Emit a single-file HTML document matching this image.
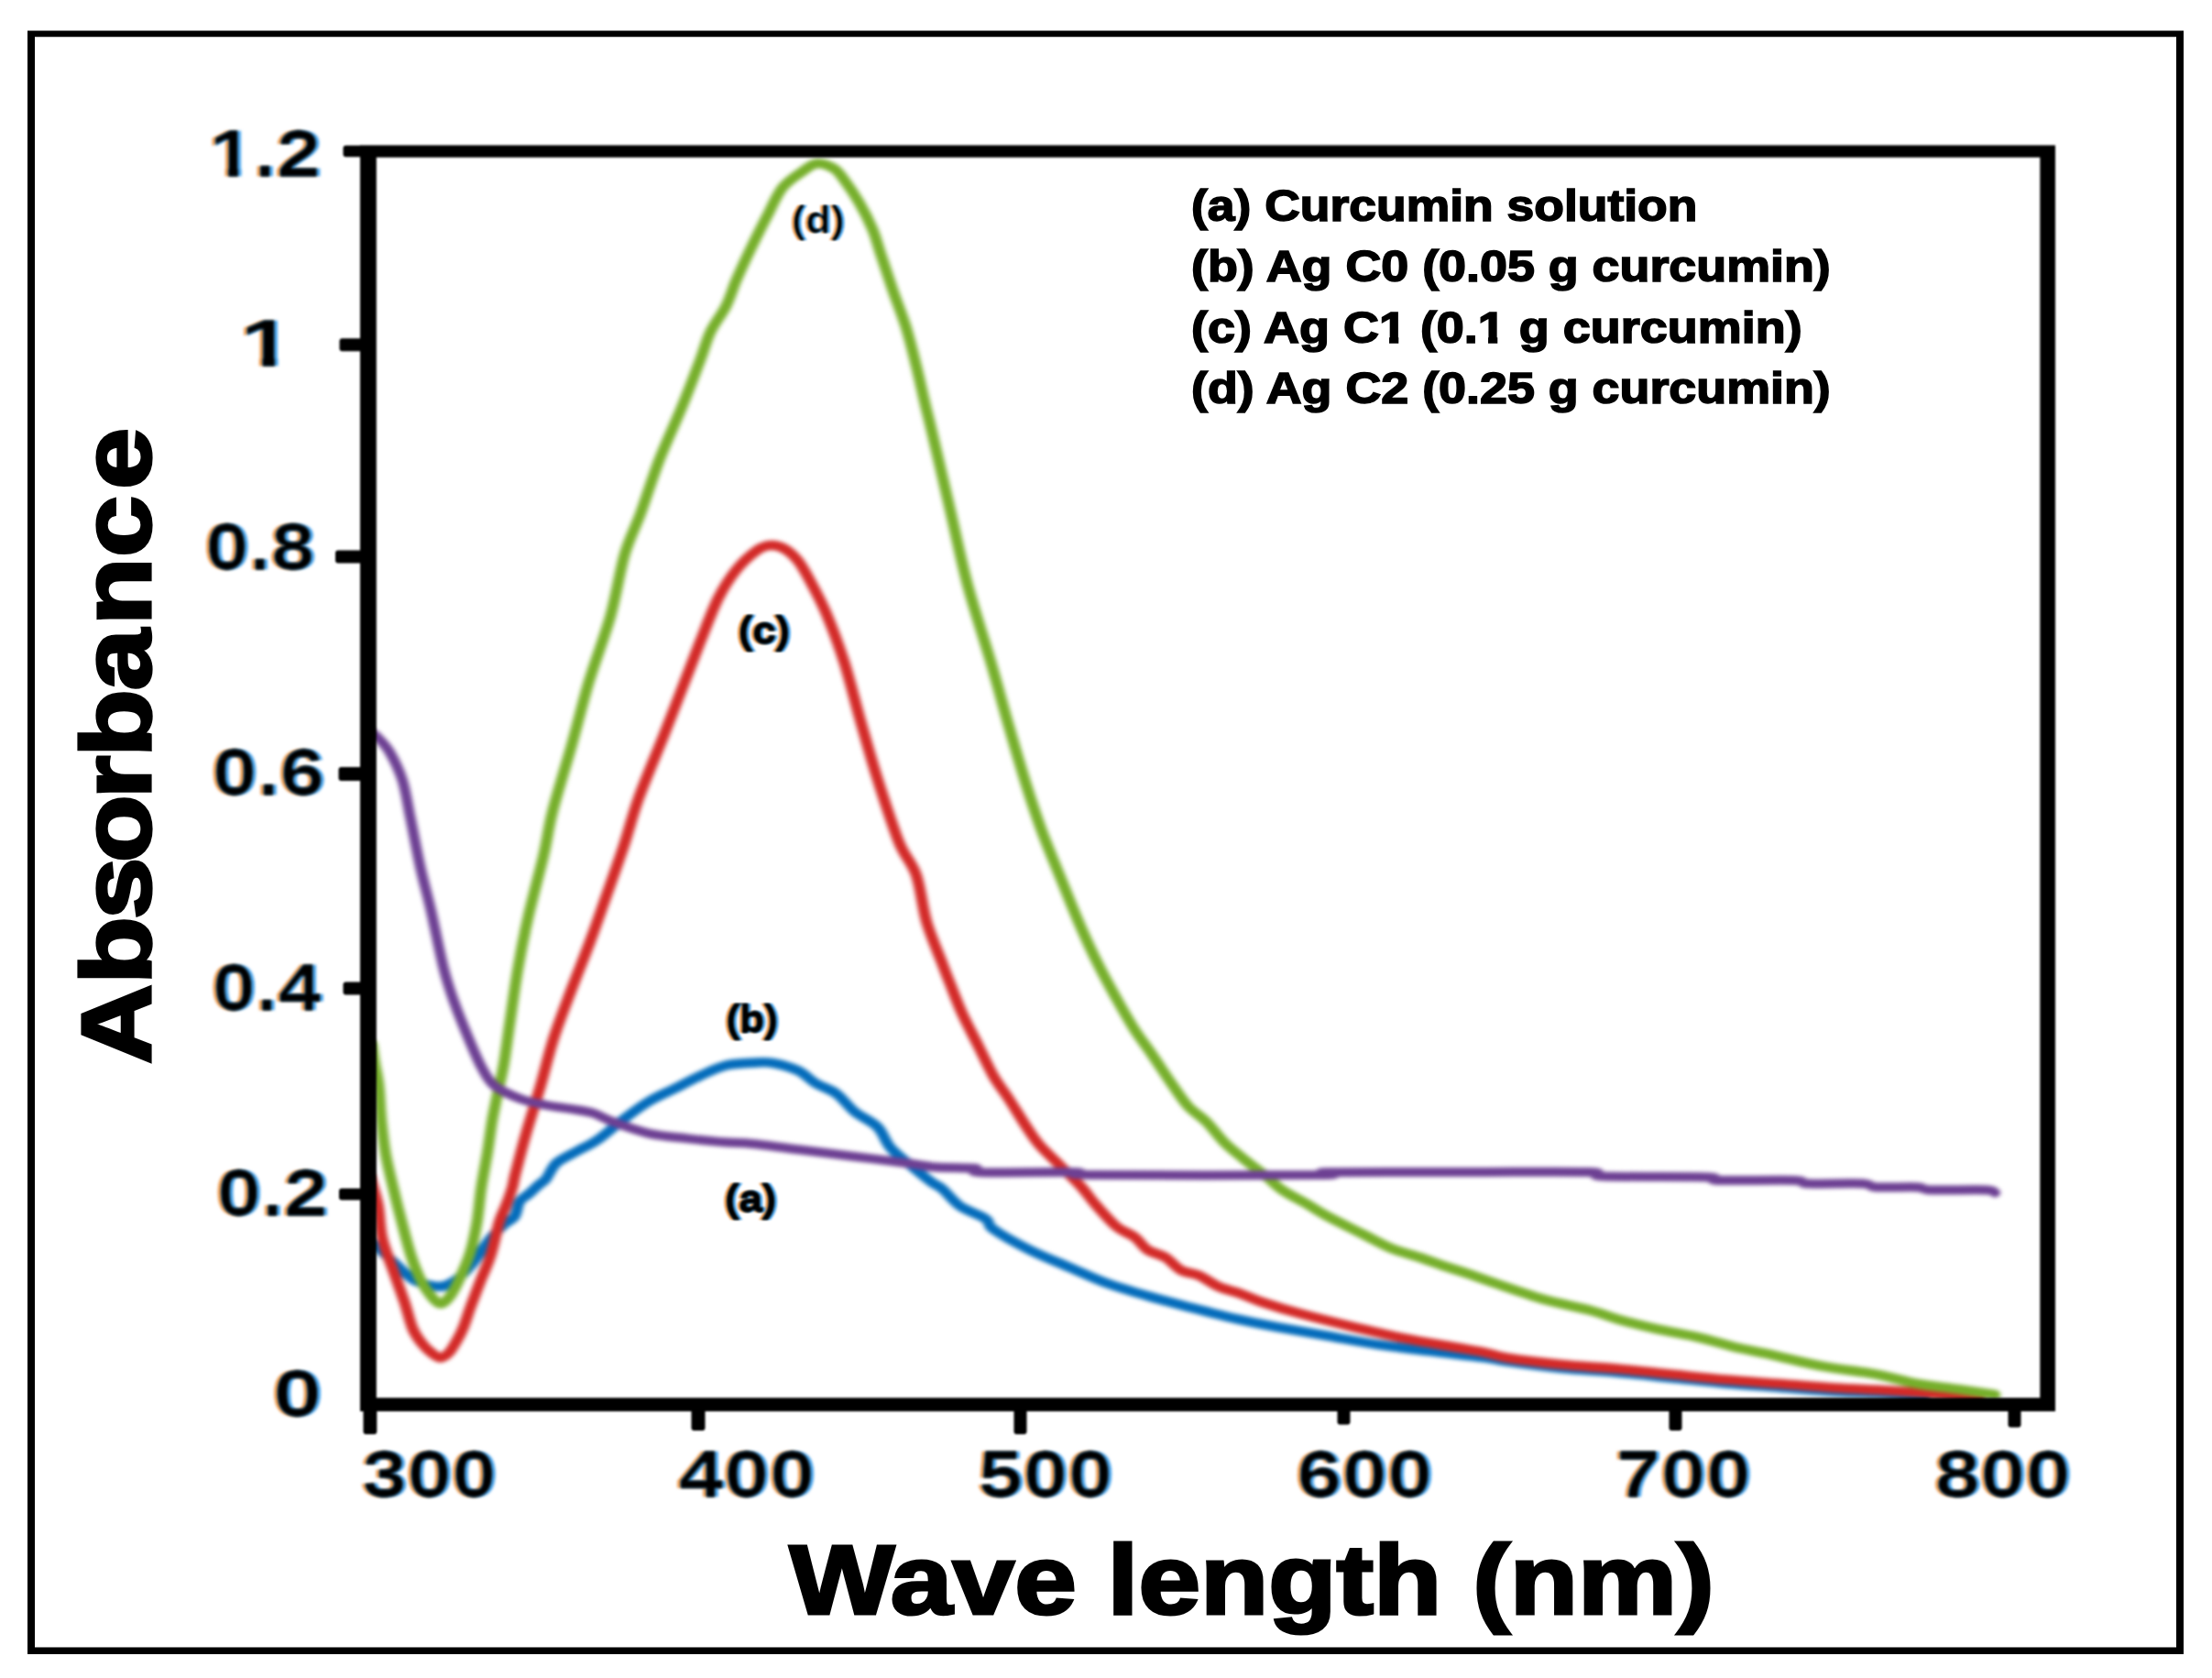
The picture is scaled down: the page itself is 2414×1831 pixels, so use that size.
<!DOCTYPE html>
<html lang="en">
<head>
<meta charset="utf-8">
<title>UV-Vis absorbance spectra</title>
<style>
html,body{margin:0;padding:0;background:#fff;}
body{width:2414px;height:1831px;overflow:hidden;}
svg{display:block;}
text{font-family:"Liberation Sans", sans-serif;font-weight:700;fill:#000;stroke:#000;stroke-linejoin:miter;stroke-miterlimit:2.5;}
</style>
</head>
<body>
<svg width="2414" height="1831" viewBox="0 0 2414 1831">
<rect x="0" y="0" width="2414" height="1831" fill="#fff"/>
<defs>
<filter id="bc" filterUnits="userSpaceOnUse" x="0" y="0" width="2414" height="1831" color-interpolation-filters="sRGB"><feGaussianBlur stdDeviation="2.4 2.3"/></filter>
<filter id="ba" filterUnits="userSpaceOnUse" x="0" y="0" width="2414" height="1831" color-interpolation-filters="sRGB"><feGaussianBlur stdDeviation="0.8"/></filter>
<filter id="bt" filterUnits="userSpaceOnUse" x="0" y="0" width="2414" height="1831" color-interpolation-filters="sRGB"><feColorMatrix in="SourceGraphic" type="matrix" values="0 0 0 0 0  0 0 0 0 0  0 0 0 0 0  -0.3333 -0.3333 -0.3333 1 0" result="k0"/><feMorphology in="k0" operator="erode" radius="2 0" result="k1"/><feGaussianBlur in="k1" stdDeviation="1.7" result="kb"/><feGaussianBlur in="k0" stdDeviation="1.6" result="fb"/><feColorMatrix in="fb" type="matrix" values="0 0 0 0 0.90  0 0 0 0 0.50  0 0 0 0 0.12  0 0 0 0.8 0" result="o"/><feOffset in="o" dx="-2.3" dy="0" result="ol"/><feColorMatrix in="fb" type="matrix" values="0 0 0 0 0.10  0 0 0 0 0.55  0 0 0 0 0.90  0 0 0 0.8 0" result="u"/><feOffset in="u" dx="2.3" dy="0" result="ur"/><feMerge><feMergeNode in="ol"/><feMergeNode in="ur"/><feMergeNode in="kb"/></feMerge></filter>
<filter id="bs" filterUnits="userSpaceOnUse" x="0" y="0" width="2414" height="1831" color-interpolation-filters="sRGB"><feColorMatrix in="SourceGraphic" type="matrix" values="0 0 0 0 0  0 0 0 0 0  0 0 0 0 0  -0.3333 -0.3333 -0.3333 1 0" result="k0"/><feMorphology in="k0" operator="erode" radius="1 0" result="k1"/><feGaussianBlur in="k1" stdDeviation="1.2" result="kb"/><feGaussianBlur in="k0" stdDeviation="1.3" result="fb"/><feColorMatrix in="fb" type="matrix" values="0 0 0 0 0.90  0 0 0 0 0.50  0 0 0 0 0.12  0 0 0 0.8 0" result="o"/><feOffset in="o" dx="-1.7" dy="0" result="ol"/><feColorMatrix in="fb" type="matrix" values="0 0 0 0 0.10  0 0 0 0 0.55  0 0 0 0 0.90  0 0 0 0.8 0" result="u"/><feOffset in="u" dx="1.7" dy="0" result="ur"/><feMerge><feMergeNode in="ol"/><feMergeNode in="ur"/><feMergeNode in="kb"/></feMerge></filter>
</defs>
<path fill="#000" fill-rule="evenodd" d="M30 33.5H2383V1805H30ZM38 40.2H2375V1797.6H38Z"/>
<g filter="url(#bc)"><g transform="scale(1.14 1)">
<path d="M354.4 1356C355.8 1357.1 358.6 1358.9 362.7 1362.8C366.8 1366.7 373.6 1373.9 378.9 1379.4C384.3 1384.9 389.7 1392.2 395.1 1396C400.5 1399.8 406.4 1401.3 411.3 1402.5C416.2 1403.7 420 1404.5 424.3 1403.4C428.6 1402.3 432.7 1400 437.3 1396C441.9 1392 447.5 1385.2 451.8 1379.4C456.2 1373.6 460 1366 463.2 1361C466.4 1356 467.7 1353.5 471.1 1349.3C474.4 1345.1 479.5 1339.2 483.1 1335.6C486.7 1331.9 490.3 1331.5 492.7 1327.4C495.1 1323.3 495.3 1315.1 497.5 1311C499.8 1306.9 502.8 1306.2 506 1303C509.2 1299.8 513.8 1294.8 516.7 1292C519.5 1289.2 520.3 1289.7 523 1285.9C525.7 1282.1 527.9 1274 532.8 1269C537.7 1264 546.1 1260.2 552.6 1256C559.2 1251.8 564.8 1249.6 572.1 1243.8C579.5 1238 588.6 1228.4 596.8 1221.4C605 1214.4 613.1 1207.4 621.3 1201.8C629.5 1196.2 637.7 1192.5 645.9 1187.8C654.1 1183.1 662.2 1178 670.4 1173.8C678.6 1169.6 686.9 1164.9 695.1 1162.6C703.3 1160.3 712.3 1160.3 719.6 1159.8C727 1159.3 731.9 1158.4 739.3 1159.8C746.7 1161.2 757 1164.5 763.9 1168.2C770.9 1171.9 775 1178 781.1 1182.2C787.3 1186.4 794.6 1188.3 800.8 1193.4C806.9 1198.5 811.4 1206.9 818 1213C824.5 1219.1 834.4 1223.3 840.1 1229.8C845.8 1236.3 847 1245.2 852.4 1252.2C857.7 1259.2 865.5 1265.6 872.1 1271.9C878.7 1278.2 887 1285.8 891.9 1290C896.9 1294.2 897.3 1292.7 901.8 1297C906.3 1301.3 912 1310.5 918.9 1316C925.9 1321.5 938.3 1325.8 943.6 1330C948.9 1334.2 943.9 1335.7 950.9 1341.3C957.8 1346.9 973 1356.7 985.4 1363.7C997.7 1370.7 1012.4 1377.2 1024.7 1383.3C1037 1389.3 1046.8 1394.9 1059.1 1400C1071.4 1405.1 1085.7 1409.8 1098.4 1414C1111.1 1418.2 1121 1421.2 1135.4 1425.4C1149.7 1429.6 1170.1 1435.7 1184.5 1439.4C1198.8 1443.1 1207.1 1444.8 1221.4 1447.8C1235.7 1450.8 1254.1 1454.3 1270.5 1457.6C1286.9 1460.9 1303.3 1464.6 1319.7 1467.4C1336.1 1470.2 1352 1472.1 1368.9 1474.4C1385.7 1476.7 1408.7 1479.5 1421.1 1481.4C1433.4 1483.3 1430.5 1483.8 1442.8 1485.7C1455.1 1487.7 1477.6 1491.1 1495.1 1493.1C1512.5 1495.1 1530 1495.8 1547.5 1497.6C1564.9 1499.3 1582.4 1501.6 1599.8 1503.6C1617.3 1505.6 1634.8 1507.9 1652.2 1509.6C1669.6 1511.3 1687 1512.5 1704.5 1514C1721.9 1515.5 1739.4 1517.2 1756.8 1518.5C1774.3 1519.8 1795 1520.2 1809.2 1521.5C1823.4 1522.8 1836.6 1525.2 1842.1 1526" fill="none" stroke="#046cbb" stroke-width="10.4" stroke-linecap="round" stroke-linejoin="round"/>
<path d="M354.4 1285C355.6 1290 359.9 1303.6 361.8 1314.7C363.8 1325.8 363.4 1339.4 366 1351.7C368.5 1364 373.6 1377 377.2 1388.6C380.7 1400.1 384.3 1410.8 387.3 1421C390.3 1431.2 392.3 1442.4 395.2 1450C398 1457.6 401.3 1462.1 404.4 1466.5C407.4 1470.9 410.5 1474 413.4 1476.5C416.3 1479 419 1481.7 421.8 1481.5C424.6 1481.3 427.5 1478.8 430.2 1475.5C432.8 1472.2 435.5 1466.4 437.7 1462C439.9 1457.6 441.3 1455 443.4 1449C445.6 1443 447.8 1434.5 450.5 1426C453.3 1417.5 456.7 1407.2 459.9 1397.9C463.1 1388.6 466.6 1381 469.6 1370.2C472.7 1359.4 475.6 1342 478.1 1333C480.5 1324 482.2 1322.2 484.2 1316C486.3 1309.8 488.8 1302 490.4 1296C491.9 1290 491.3 1289.9 493.5 1280.3C495.7 1270.7 499.2 1254.5 503.3 1238.2C507.4 1221.9 513.6 1200 518.1 1182.2C522.6 1164.5 525.4 1149 530.4 1131.7C535.3 1114.4 541.8 1095.8 547.5 1078.5C553.3 1061.2 559.8 1043 564.7 1028C569.6 1013 571.7 1006.1 577 988.8C582.4 971.5 591 943.9 596.8 924.3C602.5 904.7 604.9 891.5 611.4 871C617.9 850.5 629 821.1 636 801C642.9 780.9 647.5 767.4 653.2 750.6C659 733.8 664.7 716.4 670.4 700C676.2 683.6 682 665.5 687.7 652.5C693.5 639.5 698.8 630.4 704.9 621.7C711.1 613.1 719 605.1 724.6 600.6C730.1 596.1 733.6 595.2 738.1 595C742.6 594.8 747.3 596.4 751.6 599.2C755.9 602 760.2 606.7 763.9 611.8C767.5 616.9 769.2 620.4 773.7 630C778.2 639.6 785.2 653.9 791 669.3C796.7 684.7 802.8 703.4 808.2 722.5C813.5 741.6 818 763.2 823.2 784.2C828.5 805.2 833.5 826.3 839.7 848.7C846 871.1 854.3 901 860.5 918.7C866.8 936.4 872.8 940.5 877.2 955C881.6 969.5 882.9 989.8 887 1005.7C891.1 1021.6 897.9 1038.9 901.8 1050.6C905.6 1062.3 907.1 1066.5 910.4 1075.8C913.6 1085.1 917.1 1095.8 921.4 1106.6C925.7 1117.3 931.3 1129.1 936.2 1140.3C941.1 1151.5 946 1164.1 950.9 1173.9C955.8 1183.7 960.4 1189.7 965.7 1199C971 1208.3 978 1221.6 982.9 1230C987.8 1238.4 989.8 1242.6 995.2 1249.6C1000.5 1256.6 1008.3 1264.5 1014.9 1272C1021.5 1279.5 1028.8 1287.2 1034.6 1294.4C1040.3 1301.6 1043.6 1307.7 1049.3 1315C1055 1322.3 1062.8 1332.7 1068.9 1338.5C1075.1 1344.3 1081.2 1345.5 1086.1 1349.7C1091.1 1353.9 1093.5 1360 1098.4 1363.7C1103.3 1367.4 1110.4 1368.3 1115.7 1372C1121 1375.7 1125.1 1382.7 1130.4 1386C1135.8 1389.3 1141.5 1388.7 1147.6 1391.7C1153.8 1394.8 1160.7 1401 1167.3 1404.3C1173.8 1407.6 1179.9 1408.5 1186.8 1411.3C1193.8 1414.1 1199.3 1417.5 1209.1 1421.2C1219 1425 1231.6 1429.4 1246 1433.8C1260.3 1438.2 1278.8 1443.4 1295.2 1447.8C1311.6 1452.2 1327.9 1456.7 1344.3 1460.4C1360.7 1464.1 1380.7 1467.6 1393.5 1470.2C1406.3 1472.8 1412.8 1473.9 1421.1 1475.8C1429.3 1477.7 1430.5 1479.5 1442.8 1481.7C1455.1 1483.9 1477.6 1487.1 1495.1 1489.1C1512.5 1491.1 1530 1491.8 1547.5 1493.6C1564.9 1495.3 1582.4 1497.6 1599.8 1499.6C1617.3 1501.6 1634.8 1503.9 1652.2 1505.6C1669.6 1507.3 1687 1508.5 1704.5 1510C1721.9 1511.5 1739.4 1513.2 1756.8 1514.5C1774.3 1515.8 1791.8 1516.2 1809.2 1517.5C1826.7 1518.8 1847.3 1520.6 1861.6 1522C1875.8 1523.4 1889.2 1525.3 1894.7 1526" fill="none" stroke="#d32a28" stroke-width="10.6" stroke-linecap="round" stroke-linejoin="round"/>
<path d="M356.1 1140C356.6 1143.3 357.7 1152.4 358.8 1160C359.9 1167.6 361.7 1175 362.7 1185.4C363.8 1195.8 364 1210.1 365.1 1222.4C366.2 1234.7 367.3 1247 369.2 1259.3C371.1 1271.6 373.9 1284 376.5 1296.3C379 1308.6 381.7 1320.9 384.6 1333.2C387.4 1345.5 390.4 1359.4 393.5 1370.2C396.6 1381 400 1390.5 403.2 1397.9C406.5 1405.3 409.8 1410.4 412.9 1414.5C416 1418.6 419 1422.5 421.9 1422.5C424.9 1422.5 427.6 1419.2 430.7 1414.5C433.8 1409.8 437.2 1402.2 440.4 1394.2C443.7 1386.2 447.5 1376.7 450.2 1366.5C452.9 1356.3 454.9 1344.9 456.7 1333.2C458.4 1321.5 459.1 1308.6 460.7 1296.3C462.3 1284 464.6 1271.6 466.4 1259.3C468.2 1247 469.6 1233.2 471.2 1222.4C472.9 1211.6 474.3 1205.1 476.1 1194.7C478 1184.3 480.4 1173.8 482.5 1160C484.5 1146.2 486.3 1129.3 488.6 1112C490.8 1094.7 493.1 1074.7 496 1056C498.8 1037.3 501.7 1020.5 505.8 1000C509.9 979.5 516.6 952 520.5 932.8C524.4 913.6 524.6 905.1 529.1 885C533.6 864.9 541.8 835.5 547.5 812.2C553.3 788.9 557.4 768.4 563.5 745C569.7 721.6 578.7 695.3 584.5 672C590.2 648.7 593.2 623.6 598 605C602.8 586.4 607.6 577.6 613.2 560.4C618.7 543.2 624.5 521.6 631.1 502C637.8 482.4 646.7 461.2 653.2 443C659.8 424.8 665.9 406.1 670.4 392.6C674.9 379.1 676.2 371.6 680.3 361.8C684.4 352 691 343.2 695.1 333.8C699.2 324.4 701.2 315.5 704.9 305.7C708.6 295.9 712.3 286.7 717.2 275C722.1 263.3 729.1 247.4 734.4 235.7C739.7 224 743.4 213 749.1 204.8C754.9 196.6 763.2 191 768.8 186.6C774.3 182.2 777.5 178.7 782.4 178.2C787.3 177.7 793.9 180.8 798.2 183.8C802.5 186.8 804.1 190.1 808.2 196.4C812.3 202.7 818.3 212.8 822.8 221.7C827.3 230.6 831.8 240.8 835.1 249.7C838.4 258.6 839.3 263.8 842.5 275C845.8 286.2 850.7 303.5 854.8 317C858.9 330.5 863.4 342.7 867.1 356.2C870.8 369.7 873.9 384.2 876.9 398.2C880 412.2 883 428.3 885.5 440.3C888 452.3 888 451.1 891.9 470C895.9 488.9 903.4 526 909.1 554C914.9 582 919.8 610.2 926.3 638.2C932.9 666.2 941.9 696.6 948.5 722.3C955.1 748 960.1 769.8 965.8 792.4C971.5 815 977.6 838.8 982.9 858C988.2 877.2 991.9 890 997.6 907.6C1003.4 925.2 1011.2 946.4 1017.4 963.7C1023.5 981 1028.8 996.3 1034.6 1011.3C1040.3 1026.2 1046 1040.3 1051.8 1053.4C1057.5 1066.5 1063.2 1078.1 1068.9 1089.8C1074.7 1101.5 1080.4 1113.2 1086.1 1123.5C1091.9 1133.8 1097.2 1141.2 1103.3 1151.5C1109.5 1161.8 1117.3 1175.7 1123.1 1185C1128.8 1194.3 1132.4 1201 1137.7 1207.5C1143 1214 1149.3 1217.8 1155 1224.3C1160.7 1230.8 1166.4 1240.2 1172.2 1246.8C1177.9 1253.3 1182.9 1257.5 1189.5 1263.6C1196 1269.7 1205.1 1277.3 1211.6 1283.2C1218 1289.1 1221.5 1293.9 1228.1 1299C1234.6 1304.1 1243.8 1308.9 1250.9 1313.6C1258 1318.3 1261.5 1321.5 1270.5 1327C1279.5 1332.5 1294.8 1341 1305 1346.9C1315.2 1352.8 1323 1358.1 1332 1362.3C1341 1366.5 1350.4 1368.7 1359 1372C1367.6 1375.3 1376.3 1379 1383.7 1381.9C1391.1 1384.8 1395.8 1386.2 1403.5 1389.2C1411.2 1392.2 1417.4 1394.9 1429.6 1399.6C1441.9 1404.3 1461.5 1412.5 1476.8 1417.5C1492 1422.5 1509.1 1425.8 1521.3 1429.5C1533.5 1433.2 1539.1 1436.5 1550 1440C1560.9 1443.5 1574.1 1447.2 1586.8 1450.4C1599.4 1453.6 1613.8 1456.1 1626 1459.3C1638.2 1462.5 1649.1 1466.7 1660 1469.7C1670.9 1472.7 1677.4 1473.7 1691.4 1477.2C1705.4 1480.7 1726.3 1486.9 1743.8 1490.6C1761.2 1494.3 1780.9 1496.4 1796.1 1499.6C1811.4 1502.8 1822.3 1507.3 1835.4 1510C1848.4 1512.7 1862.1 1514 1874.6 1516C1887 1518 1904 1521 1909.9 1522" fill="none" stroke="#76af2b" stroke-width="10.5" stroke-linecap="round" stroke-linejoin="round"/>
<path d="M354.4 799C355.4 799.8 357.6 800.2 360.7 803.8C363.8 807.4 368.9 812.6 373 820.6C377.1 828.6 382 839.8 385.3 851.5C388.5 863.2 389.8 874.8 392.6 890.7C395.5 906.6 399.3 929.9 402.5 946.8C405.8 963.7 408.6 973.8 412.3 992C416 1010.2 420.9 1039.2 424.6 1056C428.3 1072.8 430.4 1079.4 434.5 1092.5C438.6 1105.6 444.6 1122.3 449.1 1134.5C453.6 1146.7 457.3 1157 461.4 1165.4C465.5 1173.8 467.5 1179.4 473.7 1185C479.8 1190.6 490.1 1195.5 498.2 1199C506.4 1202.5 514.6 1204.1 522.8 1206C531 1207.9 540 1208.8 547.4 1210.2C554.8 1211.6 560.6 1212.1 567.2 1214.4C573.8 1216.7 577.8 1220.5 586.8 1224.2C595.9 1227.9 609.4 1233.8 621.3 1236.8C633.2 1239.8 645.9 1240.8 658.2 1242.4C670.5 1244 684.8 1245.7 695.1 1246.6C705.3 1247.5 707.4 1246.6 719.6 1248C731.9 1249.4 752.5 1252.7 768.9 1255C785.2 1257.3 801.6 1259.7 818 1262C834.4 1264.3 854.4 1267.1 867.2 1269C880 1270.9 883.6 1272.5 894.7 1273.5C905.8 1274.5 926.5 1274 933.8 1275C941.1 1276 922.6 1278.5 938.6 1279.2C954.6 1279.9 1012 1278.7 1029.6 1279.2C1047.3 1279.7 1005.5 1281.5 1044.4 1282C1083.3 1282.5 1225.5 1282.5 1263.2 1282C1300.8 1281.5 1247.1 1279.7 1270.5 1279.2C1293.9 1278.7 1361.7 1279 1403.5 1279C1445.3 1279 1499.5 1278.2 1521.3 1279C1543.1 1279.8 1515.6 1282.6 1534.4 1283.5C1553.1 1284.4 1615.5 1283.7 1633.9 1284.4C1652.2 1285.1 1630.4 1287.3 1644.3 1287.9C1658.2 1288.5 1703.1 1287.3 1717.5 1287.9C1731.9 1288.5 1719.8 1290.9 1730.7 1291.5C1741.6 1292.1 1772.1 1290.8 1783 1291.5C1793.9 1292.2 1787.4 1294.8 1796.1 1295.4C1804.9 1296.1 1826.6 1294.9 1835.4 1295.4C1844.1 1295.9 1837.5 1297.9 1848.4 1298.4C1859.3 1298.9 1890.6 1297.9 1900.9 1298.4C1911.1 1298.9 1908.4 1300.9 1909.9 1301.4" fill="none" stroke="#6d4093" stroke-width="10.0" stroke-linecap="round" stroke-linejoin="round"/>
</g></g>
<g fill="#000" filter="url(#ba)">
<path fill-rule="evenodd" d="M393 158.5H2243V1540H393ZM410.8 171.8H2226.3V1525.2H410.8Z"/>
<rect x="374.5" y="158.8" width="21.5" height="12.4" rx="3"/>
<rect x="370.5" y="369.3" width="25.5" height="14" rx="3"/>
<rect x="366" y="600.5" width="30" height="14" rx="3"/>
<rect x="369.5" y="837" width="26.5" height="15" rx="3"/>
<rect x="374.5" y="1071.5" width="21.5" height="14" rx="3"/>
<rect x="370" y="1296.8" width="26" height="12.7" rx="3"/>
<rect x="396.5" y="1532" width="14.8" height="33" rx="3"/>
<rect x="754.5" y="1532" width="15" height="29" rx="3"/>
<rect x="1106.5" y="1532" width="14" height="33" rx="3"/>
<rect x="1459.5" y="1532" width="14" height="22.5" rx="3"/>
<rect x="1821.5" y="1532" width="14" height="29" rx="3"/>
<rect x="2191.5" y="1532" width="14" height="25.5" rx="3"/>
</g>
<g filter="url(#bt)">
<rect x="0" y="0" width="2414" height="1831" fill="#fff"/>
<g transform="translate(395.24 1632.5) scale(1.2566 1)"><text font-size="70" stroke-width="0.7">300</text></g>
<g transform="translate(740.22 1632.5) scale(1.2788 1)"><text font-size="70" stroke-width="0.7">400</text></g>
<g transform="translate(1067.48 1632.5) scale(1.2589 1)"><text font-size="70" stroke-width="0.7">500</text></g>
<g transform="translate(1414.96 1632.5) scale(1.2723 1)"><text font-size="70" stroke-width="0.7">600</text></g>
<g transform="translate(1763.20 1632.5) scale(1.2658 1)"><text font-size="70" stroke-width="0.7">700</text></g>
<g transform="translate(2111.46 1632.5) scale(1.2723 1)"><text font-size="70" stroke-width="0.7">800</text></g>
<g transform="translate(227.97 192) scale(1.2582 1)"><text font-size="70" stroke-width="0.7">1.2</text><rect x="2.46" y="-9.19" width="13.08" height="12.04" fill="#fff" stroke="none"/><rect x="26.74" y="-9.19" width="12.19" height="12.04" fill="#fff" stroke="none"/></g>
<g transform="translate(261.50 398.7) scale(1.5000 1)"><text font-size="70" stroke-width="0.7">1</text><rect x="2.46" y="-9.19" width="13.08" height="12.04" fill="#fff" stroke="none"/><rect x="26.74" y="-9.19" width="12.19" height="12.04" fill="#fff" stroke="none"/></g>
<g transform="translate(224.04 621) scale(1.2287 1)"><text font-size="70" stroke-width="0.7">0.8</text></g>
<g transform="translate(231.47 866.5) scale(1.2634 1)"><text font-size="70" stroke-width="0.7">0.6</text></g>
<g transform="translate(231.55 1102) scale(1.2263 1)"><text font-size="70" stroke-width="0.7">0.4</text></g>
<g transform="translate(236.49 1326) scale(1.2527 1)"><text font-size="70" stroke-width="0.7">0.2</text></g>
<g transform="translate(297.74 1545) scale(1.3824 1)"><text font-size="70" stroke-width="0.7">0</text></g>
</g>
<g filter="url(#bs)">
<rect x="0" y="0" width="2414" height="1831" fill="#fff"/>
<g transform="translate(791.06 1322) scale(1.1404 1)"><text font-size="40.5" stroke-width="2">(a)</text></g>
<g transform="translate(792.61 1126) scale(1.0880 1)"><text font-size="40.5" stroke-width="2">(b)</text></g>
<g transform="translate(805.86 701.8) scale(1.1362 1)"><text font-size="40.5" stroke-width="2">(c)</text></g>
<g transform="translate(863.75 254.3) scale(1.1250 1)"><text font-size="40.5" stroke-width="0.1">(d)</text></g>
</g>
<g>
<g transform="translate(861.57 1760.8) scale(1.1368 1)"><text font-size="107" stroke-width="3.2">Wave length (nm)</text></g>
<g transform="translate(163.7 1162.26) rotate(-90) scale(1.1301 1)"><text font-size="107" stroke-width="3.2" dx="0.8 0 -2.6 -4.7 -3.6 -1.4 -1.3 3.5 0.4 5.9">Absorbance</text></g>
<g transform="translate(1300.06 240.5) scale(1.1207 1)"><text font-size="47.7" stroke-width="1.6">(a) Curcumin solution</text></g>
<g transform="translate(1300.04 307) scale(1.1286 1)"><text font-size="47.7" stroke-width="1.6">(b) Ag C0 (0.05 g curcumin)</text></g>
<g transform="translate(1300.04 373.7) scale(1.1316 1)"><text font-size="47.7" stroke-width="1.6">(c) Ag C1 (0.1 g curcumin)</text><rect x="181.62" y="-7.37" width="9.28" height="10.67" fill="#fff" stroke="none"/><rect x="199.94" y="-7.37" width="8.67" height="10.67" fill="#fff" stroke="none"/><rect x="277.04" y="-7.37" width="9.28" height="10.67" fill="#fff" stroke="none"/><rect x="295.37" y="-7.37" width="8.67" height="10.67" fill="#fff" stroke="none"/></g>
<g transform="translate(1300.04 440.4) scale(1.1286 1)"><text font-size="47.7" stroke-width="1.6">(d) Ag C2 (0.25 g curcumin)</text></g>
</g>
</svg>
</body>
</html>
